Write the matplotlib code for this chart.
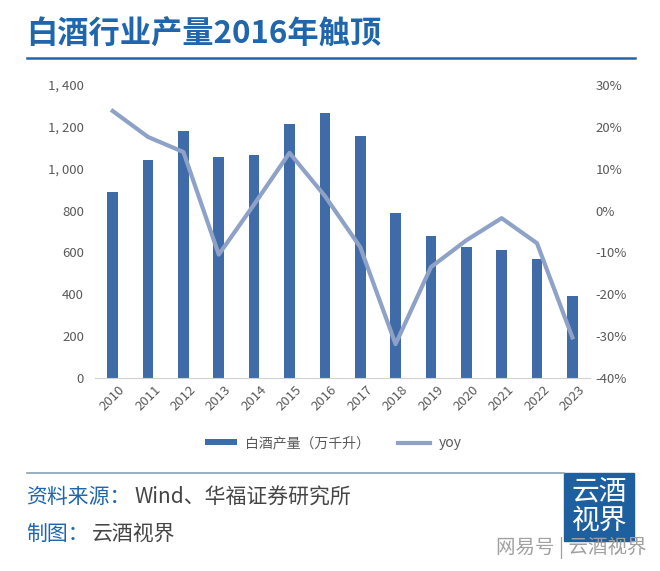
import numpy as np
import matplotlib
matplotlib.use('Agg')
import matplotlib.pyplot as plt
from matplotlib.patches import Rectangle
from matplotlib.lines import Line2D
from matplotlib.ticker import FuncFormatter

plt.rcParams['font.family'] = ['Noto Sans CJK SC', 'DejaVu Sans']

# 數據
years = ['2010', '2011', '2012', '2013', '2014', '2015', '2016',
         '2017', '2018', '2019', '2020', '2021', '2022', '2023']
output = [887, 1041, 1181, 1057, 1065, 1212, 1266,
          1157, 788, 678, 625, 614, 567, 394]
yoy = [23.8, 17.6, 14.0, -10.5, 1.5, 13.8, 3.5,
       -8.7, -31.9, -13.5, -7.1, -1.8, -7.8, -30.3]

blue = '#1f66ac'
bar_c = '#3f6ba8'
line_c = '#8ea2c7'
gray = '#595959'
dark = '#454545'

fig = plt.figure(figsize=(6.6, 5.71), dpi=100)
ax = fig.add_axes([0.144, 0.338, 0.750, 0.513])

x = np.arange(len(years))
ax.bar(x, output, width=0.3, color=bar_c, label='白酒产量（万千升）', zorder=2)
ax.set_xlim(-0.5, len(years) - 0.5)
ax.set_ylim(0, 1400)
ax.set_yticks(range(0, 1401, 200))
ax.yaxis.set_major_formatter(FuncFormatter(lambda v, p: f'{int(v):,}'.replace(',', ', ')))
ax.set_xticks(x)
ax.set_xticklabels(years, rotation=45)
for s in ['top', 'right', 'left']:
    ax.spines[s].set_visible(False)
ax.spines['bottom'].set_color('#d0d0d0')
ax.tick_params(axis='both', length=0, colors=gray, labelsize=9.5, pad=8)
ax.tick_params(axis='x', pad=4)

ax2 = ax.twinx()
ax2.plot(x, yoy, color=line_c, lw=3, label='yoy', zorder=3)
ax2.set_ylim(-40, 30)
ax2.set_yticks(range(-40, 31, 10))
ax2.yaxis.set_major_formatter(FuncFormatter(lambda v, p: f'{int(v)}%'))
for s in ax2.spines.values():
    s.set_visible(False)
ax2.tick_params(axis='y', length=0, colors=gray, labelsize=9.5, pad=4)

# 圖例
h1, l1 = ax.get_legend_handles_labels()
h2, l2 = ax2.get_legend_handles_labels()
fig.legend(h1 + h2, l1 + l2, loc='center', bbox_to_anchor=(0.505, 0.224),
           ncol=2, frameon=False, fontsize=10, labelcolor=gray,
           handlelength=2.3, handleheight=0.35, handletextpad=0.6,
           columnspacing=2.0)

# 標題
fig.text(0.040, 0.940, '白酒行业产量2016年触顶', color=blue, fontsize=22.5,
         fontweight='bold', va='center', ha='left')
fig.add_artist(Line2D([0.041, 0.962], [0.898, 0.898], color=blue, lw=1.8))

# 底部
fig.add_artist(Line2D([0.041, 0.855], [0.172, 0.172], color='#8aa0b8', lw=1.2))
fig.text(0.039, 0.129, '资料来源：', color=blue, fontsize=15, va='center')
fig.text(0.203, 0.129, 'Wind、华福证券研究所', color=dark, fontsize=15, va='center')
fig.text(0.039, 0.065, '制图：', color=blue, fontsize=15, va='center')
fig.text(0.139, 0.065, '云酒视界', color=dark, fontsize=15, va='center')

fig.add_artist(Rectangle((0.855, 0.053), 0.106, 0.119, color='#1e5fa0',
                         transform=fig.transFigure))
fig.text(0.908, 0.113, '云酒\n视界', color='white', fontsize=20,
         ha='center', va='center', linespacing=0.95)
fig.text(0.980, 0.040, '网易号 | 云酒视界', color='#a0a0a0', fontsize=14,
         ha='right', va='center')

fig.savefig('out.png', dpi=100)
